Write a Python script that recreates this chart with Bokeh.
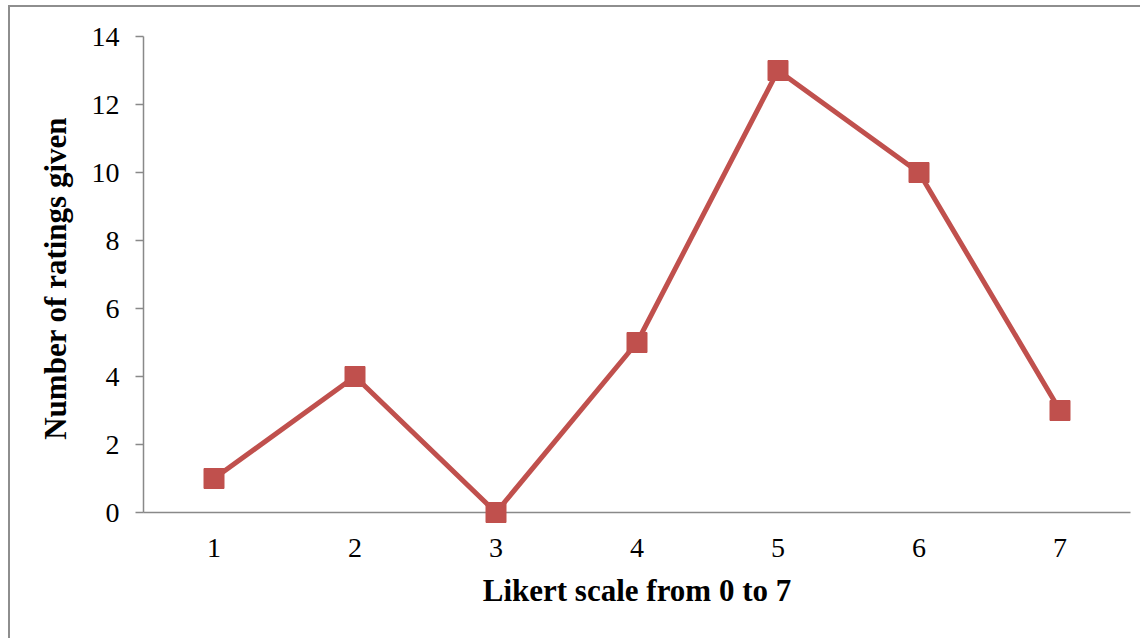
from bokeh.plotting import figure
from bokeh.models import FixedTicker, Range1d, ColumnDataSource
from bokeh.embed import file_html
from bokeh.resources import INLINE

categories = [1, 2, 3, 4, 5, 6, 7]
ratings = [1, 4, 0, 5, 13, 10, 3]
y_ticks = [0, 2, 4, 6, 8, 10, 12, 14]

LINE = "#C0504D"
AXIS = "#898989"
FONT = "Liberation Serif"

src = ColumnDataSource(dict(x=categories, y=ratings))

p = figure(frame_width=987, frame_height=476, output_backend="svg", toolbar_location=None,
           x_range=Range1d(0.5, 7.5), y_range=Range1d(0, 14),
           min_border_left=133, min_border_top=29, min_border_right=10, min_border_bottom=126)
p.styles = {"border-left": "2px solid #8e8e8e", "border-top": "2px solid #8e8e8e",
            "margin-left": "8px", "margin-top": "5px"}

p.line("x", "y", source=src, line_color=LINE, line_width=5, level="overlay")
p.scatter("x", "y", source=src, marker="square", size=20, fill_color=LINE, line_color=LINE,
          level="overlay")

p.grid.visible = False
p.outline_line_color = None

p.xaxis.ticker = FixedTicker(ticks=categories)
p.yaxis.ticker = FixedTicker(ticks=y_ticks)

for ax in (p.xaxis[0], p.yaxis[0]):
    ax.axis_line_color = AXIS
    ax.axis_line_width = 1.5
    ax.major_tick_line_color = AXIS
    ax.major_tick_line_width = 1.5
    ax.minor_tick_line_color = None
    ax.major_label_text_font = FONT
    ax.major_label_text_font_size = "28px"
    ax.major_label_text_color = "#000000"
    ax.axis_label_text_font = FONT
    ax.axis_label_text_font_size = "31px"
    ax.axis_label_text_font_style = "bold"
    ax.axis_label_text_color = "#000000"

p.xaxis.major_tick_out = 0
p.xaxis.major_tick_in = 0
p.xaxis.major_label_standoff = 26
p.xaxis.axis_label = "Likert scale from 0 to 7"
p.xaxis.axis_label_standoff = 13

p.yaxis.major_tick_out = 8
p.yaxis.major_tick_in = 0
p.yaxis.major_label_standoff = 16
p.yaxis.axis_label = "Number of  ratings given"
p.yaxis.axis_label_standoff = 16

open("out.html", "w").write(file_html(p, INLINE))
